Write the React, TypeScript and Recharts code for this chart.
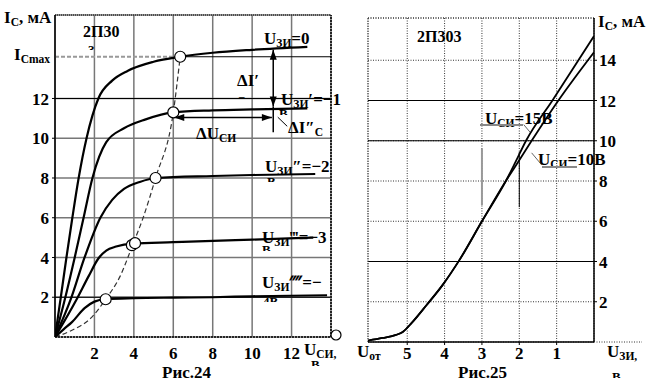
import React from "react";
import {
  ComposedChart,
  Line,
  XAxis,
  YAxis,
  CartesianGrid,
  ReferenceLine,
  ReferenceDot,
} from "recharts";

type P = { x: number; y: number };
const pts = (a: number[][]): P[] => a.map(([x, y]) => ({ x, y }));

// ---------- Рис.24: output characteristics Ic(Uси) ----------
const xTicks24 = [2, 4, 6, 8, 10, 12];
const yTicks24 = [2, 4, 6, 8, 10, 12];
const outVgs0 = pts([[0, 0], [0.28, 1.9], [0.58, 4], [0.88, 6], [1.2, 8], [1.6, 10], [2.2, 12], [2.9, 12.9], [3.7, 13.4], [5, 13.85], [6.35, 14.1], [8, 14.3], [10, 14.45], [12.8, 14.6]]);
const outVgs1 = pts([[0, 0], [0.5, 1.9], [1.0, 4], [1.45, 6], [1.9, 8], [2.6, 9.8], [3.5, 10.5], [4.6, 10.95], [6, 11.3], [8, 11.4], [10, 11.45], [12.8, 11.5]]);
const outVgs2 = pts([[0, 0], [0.8, 1.9], [1.5, 4], [2.3, 6], [2.9, 6.9], [3.5, 7.45], [4.3, 7.8], [5.1, 8], [8, 8.1], [10, 8.15], [13.2, 8.2]]);
const outVgs3 = pts([[0, 0], [1.1, 1.9], [1.7, 3.05], [2.2, 3.95], [2.6, 4.35], [3.1, 4.55], [3.97, 4.7], [6, 4.77], [8, 4.84], [10, 4.9], [13.1, 5.0]]);
const outVgs4 = pts([[0, 0], [0.45, 0.4], [0.86, 0.75], [1.5, 1.45], [2.0, 1.78], [2.57, 1.9], [4, 1.95], [6, 1.98], [8, 2.0], [10, 2.05], [13.8, 2.1]]);
const satBoundary = pts([[0, 0], [0.86, 0.34], [1.87, 1.0], [2.57, 1.9], [3.3, 3.05], [3.97, 4.71], [4.47, 6], [5.1, 8], [6, 11.3], [6.35, 14.1]]);
const satPoints = pts([[2.57, 1.9], [3.9, 4.62], [4.06, 4.72], [5.1, 8], [6.0, 11.3], [6.35, 14.1]]);
const icMax = 14.1;

// ---------- Рис.25: transfer characteristic Ic(Uзи) ----------
const xTicks25 = [1, 2, 3, 4, 5];
const yTicks25 = [2, 4, 6, 8, 10, 12, 14];
const transferCommon = [[6.05, 0.07], [5.66, 0.2], [5.3, 0.35], [5.12, 0.5], [4.88, 0.95], [4.48, 1.84], [4.05, 2.84], [3.6, 4.08], [3.0, 6.0], [2.36, 8.0]];
const transfer15 = pts([...transferCommon, [2.1, 8.95], [1.82, 10], [1.1, 12.04], [0, 15.2]]);
const transfer10 = pts([...transferCommon, [2.1, 8.75], [1.67, 10], [0.94, 12.04], [0, 14.4]]);

const FONT = "'Liberation Serif', 'Times New Roman', serif";
const tickStyle = { fontFamily: FONT, fontWeight: "bold", fontSize: 17, fill: "#000" } as any;

const arrow = (atStart: boolean, atEnd: boolean) => (p: any) => {
  const { x1, y1, x2, y2 } = p;
  const head = (tx: number, ty: number, fx: number, fy: number) => {
    const a = Math.atan2(ty - fy, tx - fx);
    const L = 10, W = 3.5;
    const bx = tx - L * Math.cos(a), by = ty - L * Math.sin(a);
    const px = -Math.sin(a) * W, py = Math.cos(a) * W;
    return `${tx},${ty} ${bx + px},${by + py} ${bx - px},${by - py}`;
  };
  return (
    <g>
      <line x1={x1} y1={y1} x2={x2} y2={y2} stroke="#000" strokeWidth={1.5} />
      {atStart && <polygon points={head(x1, y1, x2, y2)} fill="#000" />}
      {atEnd && <polygon points={head(x2, y2, x1, y1)} fill="#000" />}
    </g>
  );
};

type Seg = [string, boolean?];
const Lab = ({ x, y, segs, size = 17 }: { x: number; y: number; segs: Seg[]; size?: number }) => {
  let cur = 0;
  return (
    <text x={x} y={y} fontFamily={FONT} fontWeight="bold" fontSize={size} fill="#000">
      {segs.map(([t, sub], i) => {
        const target = sub ? 3 : 0;
        const dy = target - cur;
        cur = target;
        return (
          <tspan key={i} dy={dy} fontSize={sub ? size * 0.68 : size}>
            {t}
          </tspan>
        );
      })}
    </text>
  );
};

// wrapped second lines of the labels, cut by their frames
const cuts = [
  { id: "c1", x: 88, y: 54, clip: 50, t: "3" },
  { id: "c2", x: 279, y: 118, clip: 115, t: "В" },
  { id: "c3", x: 267, y: 186, clip: 182, t: "В" },
  { id: "c4", x: 262, y: 254, clip: 251, t: "В" },
  { id: "c5", x: 263, y: 306, clip: 302, t: "4В" },
  { id: "c6", x: 311, y: 369, clip: 366, t: "В" },
  { id: "c7", x: 612, y: 381, clip: 378, t: "В" },
];

export default function App() {
  return (
    <div style={{ position: "absolute", left: 0, top: 0, width: 663, height: 391, background: "#fff" }}>
      <div style={{ position: "absolute", left: 0, top: 0 }}>
        <ComposedChart width={663} height={391} margin={{ top: 15, right: 332, bottom: 24, left: 15 }}>
          <CartesianGrid stroke="#777" strokeWidth={1.5} />
          <XAxis
            type="number"
            dataKey="x"
            domain={[0, 14]}
            ticks={xTicks24}
            height={30}
            tickSize={3}
            tickMargin={7}
            tick={tickStyle}
            tickLine={false}
            axisLine={{ stroke: "#000", strokeWidth: 1.5, strokeDasharray: "2 1" }}
            allowDataOverflow
          />
          <YAxis
            type="number"
            dataKey="y"
            domain={[0, 16.2]}
            ticks={yTicks24}
            width={40}
            tickSize={3}
            tickMargin={3}
            tick={tickStyle}
            tickLine={{ stroke: "#000" }}
            axisLine={{ stroke: "#000", strokeWidth: 1.5 }}
            allowDataOverflow
          />
          <ReferenceLine y={12} stroke="#000" strokeWidth={1.2} />
          <ReferenceLine y={2} stroke="#000" strokeWidth={1.2} />
          <ReferenceLine y={16.2} stroke="#000" strokeDasharray="1 1" />
          <ReferenceLine x={14} stroke="#222" strokeWidth={2} strokeDasharray="2 1" />
          <ReferenceLine segment={[{ x: 6.35, y: icMax }, { x: 14, y: icMax }]} stroke="#000" strokeWidth={1.2} />
          <ReferenceLine segment={[{ x: 0, y: icMax }, { x: 6.35, y: icMax }]} stroke="#999" strokeWidth={2} strokeDasharray="4 2" />
          <ReferenceLine segment={[{ x: 11.07, y: 11.6 }, { x: 11.07, y: 14.45 }]} shape={arrow(true, true)} />
          <ReferenceLine segment={[{ x: 11.07, y: 10.3 }, { x: 11.07, y: 11.6 }]} stroke="#000" strokeWidth={1.5} />
          <ReferenceLine segment={[{ x: 6.05, y: 11.04 }, { x: 11.0, y: 11.04 }]} shape={arrow(true, true)} />
          <ReferenceLine segment={[{ x: 11.3, y: 11.06 }, { x: 11.78, y: 10.6 }]} stroke="#000" strokeWidth={1} />
          <Line data={satBoundary} dataKey="y" type="monotone" stroke="#333" strokeWidth={1.2} strokeDasharray="5 3" dot={false} isAnimationActive={false} />
          <Line data={outVgs0} dataKey="y" type="monotone" stroke="#000" strokeWidth={2.2} dot={false} isAnimationActive={false} />
          <Line data={outVgs1} dataKey="y" type="monotone" stroke="#000" strokeWidth={2.2} dot={false} isAnimationActive={false} />
          <Line data={outVgs2} dataKey="y" type="monotone" stroke="#000" strokeWidth={2.2} dot={false} isAnimationActive={false} />
          <Line data={outVgs3} dataKey="y" type="monotone" stroke="#000" strokeWidth={2.2} dot={false} isAnimationActive={false} />
          <Line data={outVgs4} dataKey="y" type="monotone" stroke="#000" strokeWidth={2.2} dot={false} isAnimationActive={false} />
          {satPoints.map((p, i) => (
            <ReferenceDot key={i} x={p.x} y={p.y} r={5.5} fill="#fff" stroke="#000" strokeWidth={1.2} />
          ))}
        </ComposedChart>
      </div>
      <div style={{ position: "absolute", left: 0, top: 0 }}>
        <ComposedChart width={663} height={391} margin={{ top: 18, right: 29, bottom: 19, left: 368 }}>
          <CartesianGrid stroke="#333" strokeDasharray="1 1.5" />
          <XAxis
            type="number"
            dataKey="x"
            domain={[0, 6.05]}
            reversed
            ticks={xTicks25}
            height={30}
            tickSize={3}
            tickMargin={2}
            tick={tickStyle}
            tickLine={{ stroke: "#000" }}
            axisLine={{ stroke: "#000", strokeWidth: 1.5 }}
            allowDataOverflow
          />
          <YAxis
            orientation="right"
            type="number"
            dataKey="y"
            domain={[0, 16.1]}
            ticks={yTicks25}
            width={40}
            tickSize={3}
            tickMargin={2}
            tick={tickStyle}
            tickLine={{ stroke: "#000" }}
            axisLine={{ stroke: "#000", strokeWidth: 1.5 }}
            allowDataOverflow
          />
          <ReferenceLine y={4} stroke="#000" strokeWidth={1} />
          <ReferenceLine y={10} stroke="#000" strokeWidth={1} />
          <ReferenceLine y={12} stroke="#000" strokeWidth={1} />
          <ReferenceLine y={16.1} stroke="#333" strokeDasharray="1 1.5" />
          <ReferenceLine x={6.05} stroke="#333" strokeDasharray="1 1.5" />
          <ReferenceLine segment={[{ x: 3, y: 6.8 }, { x: 3, y: 9.6 }]} stroke="#999" strokeWidth={2} />
          <ReferenceLine segment={[{ x: 2, y: 6.7 }, { x: 2, y: 9.45 }]} stroke="#000" strokeWidth={1} />
          <ReferenceLine segment={[{ x: 1.88, y: 10.8 }, { x: 1.7, y: 10.4 }]} stroke="#666" strokeWidth={1} />
          <ReferenceLine segment={[{ x: 1.67, y: 9.4 }, { x: 1.4, y: 8.8 }]} stroke="#666" strokeWidth={1} />
          <Line data={transfer15} dataKey="y" type="monotone" stroke="#000" strokeWidth={1.8} dot={false} isAnimationActive={false} />
          <Line data={transfer10} dataKey="y" type="monotone" stroke="#000" strokeWidth={1.8} dot={false} isAnimationActive={false} />
        </ComposedChart>
      </div>
      <svg width={663} height={391} style={{ position: "absolute", left: 0, top: 0, pointerEvents: "none" }}>
        <defs>
          {cuts.map((c) => (
            <clipPath key={c.id} id={c.id}>
              <rect x={0} y={0} width={663} height={c.clip} />
            </clipPath>
          ))}
        </defs>
        {cuts.map((c) => (
          <g key={c.id} clipPath={`url(#${c.id})`}>
            <Lab x={c.x} y={c.y} size={13} segs={[[c.t]]} />
          </g>
        ))}
        {/* Рис.24 labels */}
        <Lab x={4} y={23} segs={[["I"], ["С", true], [", мА"]]} />
        <Lab x={83} y={37} size={16} segs={[["2П30"]]} />
        <Lab x={14} y={60} segs={[["I"], ["Сmax", true]]} />
        <Lab x={264} y={44} segs={[["U"], ["ЗИ", true], ["=0"]]} />
        <Lab x={281} y={105} segs={[["U"], ["ЗИ", true], ["′=−1"]]} />
        <Lab x={237} y={86} segs={[["ΔI′"]]} />
        <Lab x={239} y={100} size={11} segs={[["–"]]} />
        <Lab x={288} y={133} segs={[["ΔI″"], ["С", true]]} />
        <Lab x={196} y={139} segs={[["ΔU"], ["СИ", true]]} />
        <Lab x={265} y={172} segs={[["U"], ["ЗИ", true], ["″=−2"]]} />
        <Lab x={262} y={243} segs={[["U"], ["ЗИ", true], ["‴=−3"]]} />
        <Lab x={262} y={288} segs={[["U"], ["ЗИ", true], ["⁗=−"]]} />
        <Lab x={304} y={355} segs={[["U"], ["СИ,", true]]} />
        <Lab x={162} y={378} segs={[["Рис.24"]]} />
        <circle cx={336} cy={335} r={5} fill="#fff" stroke="#000" strokeWidth={1.2} />
        {/* Рис.25 labels */}
        <line x1={594} y1={342} x2={642} y2={342} stroke="#333" strokeDasharray="1 1.5" />
        <Lab x={598} y={27} segs={[["I"], ["С", true], [", мА"]]} />
        <Lab x={417} y={42} size={16} segs={[["2П303"]]} />
        <Lab x={485} y={124} segs={[["U"], ["СИ", true], ["=15В"]]} />
        <line x1={480} y1={125} x2={523} y2={125} stroke="#888" strokeWidth={2} />
        <Lab x={538} y={165} segs={[["U"], ["СИ", true], ["=10В"]]} />
        <line x1={542} y1={167} x2={577} y2={167} stroke="#888" strokeWidth={2} />
        <Lab x={357} y={357} segs={[["U"], ["от", true]]} />
        <Lab x={607} y={357} segs={[["U"], ["ЗИ,", true]]} />
        <Lab x={458} y={378} segs={[["Рис.25"]]} />
      </svg>
    </div>
  );
}
